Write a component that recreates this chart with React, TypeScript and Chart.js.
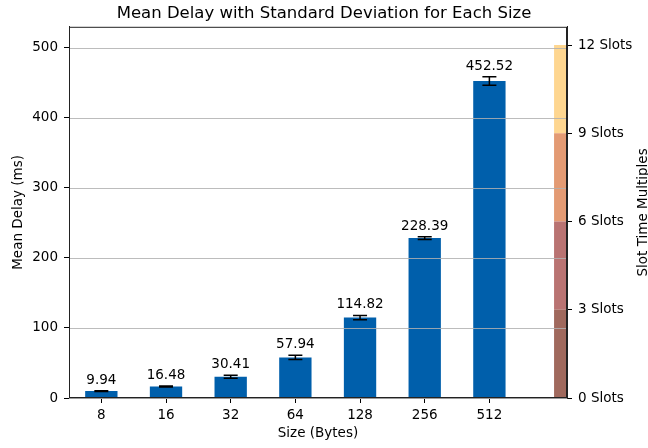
import React, { useEffect, useRef } from 'react';
import { Chart, registerables } from 'chart.js';

Chart.register(...registerables);

// ---- data ----
const SIZES = ['8', '16', '32', '64', '128', '256', '512'];
const MEAN_DELAY = [9.94, 16.48, 30.41, 57.94, 114.82, 228.39, 452.52];
const STD_DELAY = [0.5, 0.6, 2.2, 3.0, 3.0, 2.0, 6.0];
const Y_TICKS = [0, 100, 200, 300, 400, 500];
const Y_MAX = 530;
const X_MIN = -0.5;
const X_MAX = 7.2;
const SLOT_TIME_MS = 42;
const SLOT_TICKS = [0, 3, 6, 9, 12];
const BAND_X = 7.1;
const BAND_COLORS = ['#a0695d', '#b97372', '#e39a73', '#fed690'];

const FONT = '"DejaVu Sans", sans-serif';
const BAR_COLOR = '#005fab';

export default function App() {
  const ref = useRef<HTMLCanvasElement>(null);

  useEffect(() => {
    const canvas = ref.current!;

    const bandDatasets = SLOT_TICKS.slice(0, -1).map((s, i) => ({
      type: 'bar' as const,
      label: `band${i}`,
      data: [{ x: BAND_X, y: [s * SLOT_TIME_MS, SLOT_TICKS[i + 1] * SLOT_TIME_MS] }],
      backgroundColor: BAND_COLORS[i],
      borderWidth: 0,
      grouped: false,
      categoryPercentage: 1,
      barPercentage: 0.2,
      xAxisID: 'x',
      yAxisID: 'y',
    }));

    const overlay = {
      id: 'overlay',
      afterDatasetsDraw(chart: any) {
        const { ctx, chartArea, scales } = chart;
        const xs = scales.x;
        const ys = scales.y;
        ctx.save();
        // horizontal grid lines drawn above bars
        ctx.strokeStyle = 'rgba(176,176,176,0.85)';
        ctx.lineWidth = 1;
        for (const t of Y_TICKS) {
          const py = Math.round(ys.getPixelForValue(t)) + 0.5;
          ctx.beginPath();
          ctx.moveTo(chartArea.left, py);
          ctx.lineTo(chartArea.right, py);
          ctx.stroke();
        }
        // error bars
        ctx.strokeStyle = '#000';
        ctx.lineWidth = 1.5;
        MEAN_DELAY.forEach((m, i) => {
          const px = xs.getPixelForValue(i);
          const top = ys.getPixelForValue(m + STD_DELAY[i]);
          const bot = ys.getPixelForValue(m - STD_DELAY[i]);
          const cap = 7;
          ctx.beginPath();
          ctx.moveTo(px, top);
          ctx.lineTo(px, bot);
          ctx.moveTo(px - cap, top);
          ctx.lineTo(px + cap, top);
          ctx.moveTo(px - cap, bot);
          ctx.lineTo(px + cap, bot);
          ctx.stroke();
        });
        // value labels
        ctx.fillStyle = '#000';
        ctx.font = `13.5px ${FONT}`;
        ctx.textAlign = 'center';
        ctx.textBaseline = 'alphabetic';
        MEAN_DELAY.forEach((m, i) => {
          ctx.fillText(m.toFixed(2), xs.getPixelForValue(i), ys.getPixelForValue(m + STD_DELAY[i]) - 7);
        });
        // axes frame
        ctx.strokeStyle = '#222';
        ctx.lineWidth = 1;
        ctx.strokeRect(chartArea.left + 0.5, chartArea.top + 0.5, chartArea.width - 1, chartArea.height - 1);
        // right axis title (reads bottom to top)
        ctx.translate(chart.width - 5, (chartArea.top + chartArea.bottom) / 2);
        ctx.rotate(-Math.PI / 2);
        ctx.textBaseline = 'middle';
        ctx.fillText('Slot Time Multiples', 0, 0);
        ctx.restore();
      },
    };

    const chart = new Chart(canvas, {
      type: 'bar',
      data: {
        datasets: [
          {
            label: 'Mean Delay',
            data: MEAN_DELAY.map((v, i) => ({ x: i, y: v })),
            backgroundColor: BAR_COLOR,
            borderWidth: 0,
            grouped: false,
            categoryPercentage: 1,
            barPercentage: 0.5,
            xAxisID: 'x',
            yAxisID: 'y',
          } as any,
          ...bandDatasets,
        ],
      },
      options: {
        animation: false,
        responsive: false,
        maintainAspectRatio: false,
        layout: { padding: 0 },
        plugins: {
          legend: { display: false },
          tooltip: { enabled: false },
          title: {
            display: true,
            text: 'Mean Delay with Standard Deviation for Each Size',
            color: '#000',
            font: { family: FONT, size: 16.5, weight: 'normal' },
            padding: { top: 4, bottom: 3 },
          },
        },
        scales: {
          x: {
            type: 'linear',
            position: 'bottom',
            min: X_MIN,
            max: X_MAX,
            offset: false,
            afterBuildTicks: (s: any) => {
              s.ticks = SIZES.map((_, i) => ({ value: i }));
            },
            afterFit: (s: any) => {
              s.height = 50;
            },
            ticks: {
              autoSkip: false,
              maxRotation: 0,
              color: '#000',
              padding: 4,
              font: { family: FONT, size: 13.5 },
              callback: (v: any) => SIZES[Math.round(Number(v))] ?? '',
            },
            grid: {
              offset: false,
              drawOnChartArea: false,
              drawTicks: true,
              tickLength: 5,
              tickColor: '#000',
            },
            border: { display: true, color: '#222', width: 1 },
            title: {
              display: true,
              text: 'Size (Bytes)',
              color: '#000',
              font: { family: FONT, size: 13.5 },
              padding: { top: 0, bottom: 6 },
            },
          },
          y: {
            type: 'linear',
            position: 'left',
            min: 0,
            max: Y_MAX,
            afterBuildTicks: (s: any) => {
              s.ticks = Y_TICKS.map((v) => ({ value: v }));
            },
            afterFit: (s: any) => {
              s.width = 69;
            },
            ticks: {
              color: '#000',
              padding: 6,
              font: { family: FONT, size: 13.5 },
            },
            grid: {
              drawOnChartArea: false,
              drawTicks: true,
              tickLength: 5,
              tickColor: '#000',
            },
            border: { display: true, color: '#222', width: 1 },
            title: {
              display: true,
              text: 'Mean Delay (ms)',
              color: '#000',
              font: { family: FONT, size: 13.5 },
              padding: { top: 10, bottom: 0 },
            },
          },
          y2: {
            type: 'linear',
            position: 'right',
            min: 0,
            max: Y_MAX,
            afterBuildTicks: (s: any) => {
              s.ticks = SLOT_TICKS.map((n) => ({ value: n * SLOT_TIME_MS }));
            },
            afterFit: (s: any) => {
              s.width = 81;
            },
            ticks: {
              color: '#000',
              padding: 6,
              font: { family: FONT, size: 13.5 },
              callback: (v: any) => `${Math.round(Number(v) / SLOT_TIME_MS)} Slots`,
            },
            grid: {
              drawOnChartArea: false,
              drawTicks: true,
              tickLength: 5,
              tickColor: '#000',
            },
            border: { display: true, color: '#222', width: 1 },
          },
        },
      } as any,
      plugins: [overlay],
    });

    return () => chart.destroy();
  }, []);

  return (
    <div style={{ position: 'fixed', left: 0, top: 0, width: 648, height: 448, background: '#fff' }}>
      <canvas ref={ref} width={648} height={448} style={{ width: 648, height: 448, display: 'block' }} />
    </div>
  );
}
